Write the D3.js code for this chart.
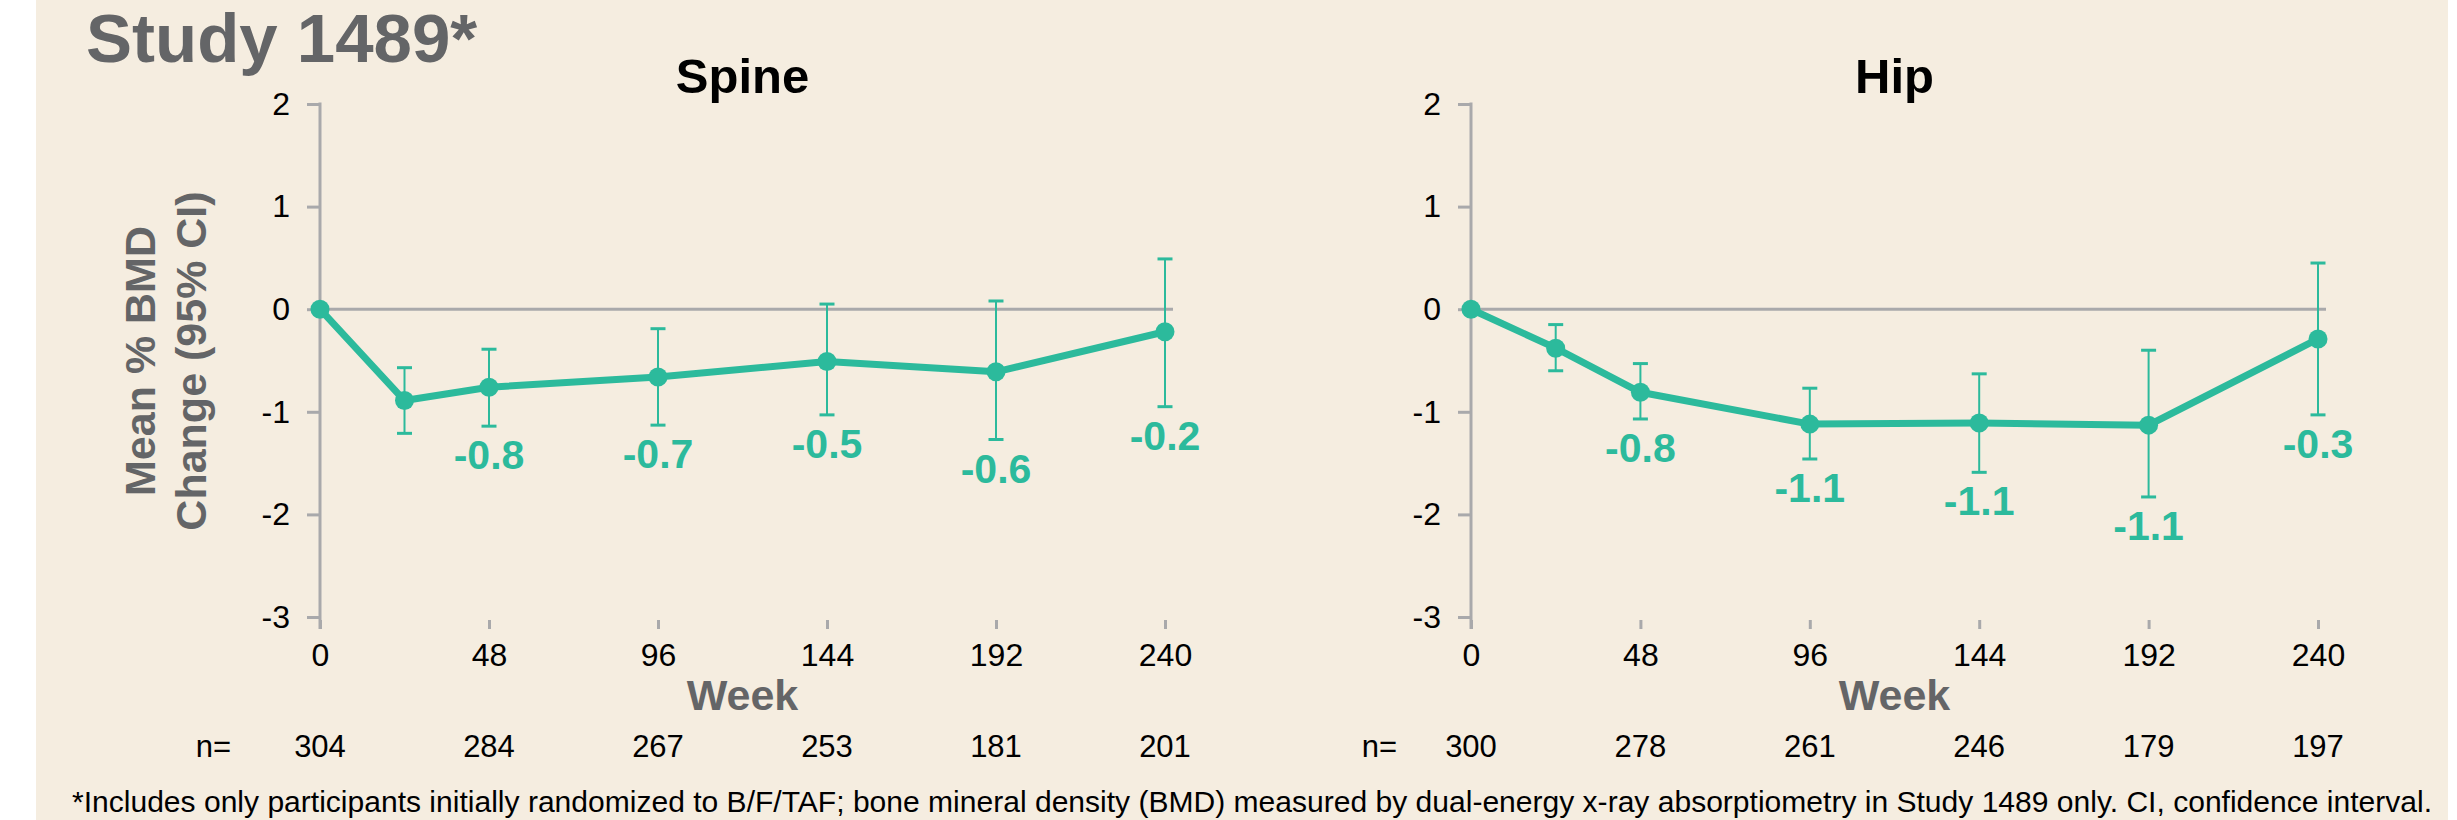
<!DOCTYPE html>
<html>
<head>
<meta charset="utf-8">
<script src="https://cdn.jsdelivr.net/npm/d3@7"></script>
<style>
  html, body { margin: 0; padding: 0; background: #ffffff; }
  svg text { font-family: "Liberation Sans", Arial, sans-serif; }
</style>
</head>
<body>
<script>
'use strict'

// weeks where a mean was measured, and the labelled ticks
const weeks = [0, 24, 48, 96, 144, 192, 240]
const tickWeeks = [0, 48, 96, 144, 192, 240]
const yTicks = [2, 1, 0, -1, -2, -3]

// spine
const spineMean = [0, -0.89, -0.76, -0.66, -0.51, -0.61, -0.22]
const spineLow = [null, -1.21, -1.14, -1.13, -1.03, -1.27, -0.95]
const spineHigh = [null, -0.57, -0.39, -0.19, 0.05, 0.08, 0.49]
const spineLabels = [null, null, '-0.8', '-0.7', '-0.5', '-0.6', '-0.2']
const spineN = [304, 284, 267, 253, 181, 201]

// hip
const hipMean = [0, -0.38, -0.81, -1.12, -1.11, -1.13, -0.29]
const hipLow = [null, -0.60, -1.07, -1.46, -1.59, -1.83, -1.03]
const hipHigh = [null, -0.15, -0.53, -0.77, -0.63, -0.40, 0.45]
const hipLabels = [null, null, '-0.8', '-1.1', '-1.1', '-1.1', '-0.3']
const hipN = [300, 278, 261, 246, 179, 197]

const teal = '#2cba9c',
      axisGrey = '#a9a9ab',
      textGrey = '#646567'

const W = 2457, H = 820

const svg = d3.select('body').append('svg')
    .attr('width', W)
    .attr('height', H)

svg.append('rect')
    .attr('x', 36).attr('y', 0)
    .attr('width', 2412).attr('height', H)
    .attr('fill', '#f5ede0')

svg.append('text')
    .attr('x', 86).attr('y', 62)
    .attr('font-size', 69).attr('font-weight', 'bold')
    .attr('fill', textGrey)
    .text('Study 1489*')

// y axis title, shared
const yTitle = [['Mean % BMD', 155], ['Change (95% CI)', 206]]
yTitle.forEach(function(t){
  svg.append('text')
    .attr('transform', 'translate(' + [t[1], 361] + ') rotate(-90)')
    .attr('text-anchor', 'middle')
    .attr('font-size', 43).attr('font-weight', 'bold')
    .attr('fill', textGrey)
    .text(t[0])
})

const y = d3.scaleLinear()
    .domain([2, -3])
    .range([104, 617])

const panels = [
  {title: 'Spine', left: 320, right: 1165, nX: 231,
   mean: spineMean, low: spineLow, high: spineHigh, labels: spineLabels, n: spineN},
  {title: 'Hip', left: 1471, right: 2318, nX: 1397,
   mean: hipMean, low: hipLow, high: hipHigh, labels: hipLabels, n: hipN}
]

panels.forEach(drawPanel)

function drawPanel(p){
  const x = d3.scaleLinear()
      .domain([0, 240])
      .range([p.left, p.right])

  const g = svg.append('g')

  g.append('text')
      .attr('x', (p.left + p.right) / 2).attr('y', 93)
      .attr('text-anchor', 'middle')
      .attr('font-size', 49).attr('font-weight', 'bold')
      .attr('fill', '#000')
      .text(p.title)

  // y axis
  const yAxis = g.append('g')
      .attr('transform', 'translate(' + [p.left, 0] + ')')
      .call(d3.axisLeft(y).tickValues(yTicks).tickSize(13).tickPadding(17)
        .tickFormat(d3.format('d')))
  yAxis.select('.domain').remove()
  yAxis.selectAll('line').attr('stroke', axisGrey).attr('stroke-width', 3)
  yAxis.selectAll('text')
      .attr('font-size', 32).attr('fill', '#000')
      .attr('font-family', '"Liberation Sans", Arial, sans-serif')
      .text(function(d){ return d < 0 ? '-' + Math.abs(d) : d })

  g.append('line')
      .attr('x1', p.left).attr('x2', p.left)
      .attr('y1', y(2) - 1.5).attr('y2', 629)
      .attr('stroke', axisGrey).attr('stroke-width', 3)

  // zero line
  g.append('line')
      .attr('x1', p.left).attr('x2', p.right + 8)
      .attr('y1', y(0)).attr('y2', y(0))
      .attr('stroke', axisGrey).attr('stroke-width', 3)

  // x axis (ticks only)
  const xAxis = g.append('g')
      .attr('transform', 'translate(' + [0, 620] + ')')
      .call(d3.axisBottom(x).tickValues(tickWeeks).tickSize(9).tickPadding(14))
  xAxis.select('.domain').remove()
  xAxis.selectAll('line').attr('stroke', axisGrey).attr('stroke-width', 3)
  xAxis.selectAll('text')
      .attr('font-size', 32).attr('fill', '#000')
      .attr('font-family', '"Liberation Sans", Arial, sans-serif')

  g.append('text')
      .attr('x', (p.left + p.right) / 2).attr('y', 710)
      .attr('text-anchor', 'middle')
      .attr('font-size', 43).attr('font-weight', 'bold')
      .attr('fill', textGrey)
      .text('Week')

  // n row
  g.append('text')
      .attr('x', p.nX).attr('y', 757)
      .attr('text-anchor', 'end')
      .attr('font-size', 31).attr('fill', '#000')
      .text('n=')
  g.selectAll('.nval')
    .data(p.n)
    .enter()
    .append('text')
      .attr('class', 'nval')
      .attr('x', (d, i) => x(tickWeeks[i]))
      .attr('y', 757)
      .attr('text-anchor', 'middle')
      .attr('font-size', 31).attr('fill', '#000')
      .text(d => d)

  const pts = weeks.map((w, i) => ({w: w, m: p.mean[i], lo: p.low[i], hi: p.high[i], lab: p.labels[i]}))
  const bars = pts.filter(d => d.lo !== null)

  // error bars
  const eb = g.append('g').attr('stroke', teal)
  eb.selectAll('.stem')
    .data(bars).enter().append('line')
      .attr('x1', d => x(d.w)).attr('x2', d => x(d.w))
      .attr('y1', d => y(d.hi)).attr('y2', d => y(d.lo))
      .attr('stroke-width', 2)
  eb.selectAll('.capHi')
    .data(bars).enter().append('line')
      .attr('x1', d => x(d.w) - 7.5).attr('x2', d => x(d.w) + 7.5)
      .attr('y1', d => y(d.hi)).attr('y2', d => y(d.hi))
      .attr('stroke-width', 3)
  eb.selectAll('.capLo')
    .data(bars).enter().append('line')
      .attr('x1', d => x(d.w) - 7.5).attr('x2', d => x(d.w) + 7.5)
      .attr('y1', d => y(d.lo)).attr('y2', d => y(d.lo))
      .attr('stroke-width', 3)

  const line = d3.line()
      .x(d => x(d.w))
      .y(d => y(d.m))

  g.append('path')
      .attr('d', line(pts))
      .attr('fill', 'none')
      .attr('stroke', teal)
      .attr('stroke-width', 7)
      .attr('stroke-linejoin', 'round')

  g.selectAll('.dot')
    .data(pts).enter().append('circle')
      .attr('cx', d => x(d.w)).attr('cy', d => y(d.m))
      .attr('r', 9.5)
      .attr('fill', teal)

  g.selectAll('.lab')
    .data(pts.filter(d => d.lab)).enter().append('text')
      .attr('x', d => x(d.w)).attr('y', d => y(d.lo) + 43)
      .attr('text-anchor', 'middle')
      .attr('font-size', 41).attr('font-weight', 'bold')
      .attr('fill', teal)
      .text(d => d.lab)
}

svg.append('text')
    .attr('x', 72).attr('y', 812)
    .attr('font-size', 30).attr('fill', '#000')
    .attr('textLength', 2360)
    .attr('lengthAdjust', 'spacingAndGlyphs')
    .text('*Includes only participants initially randomized to B/F/TAF; bone mineral density (BMD) measured by dual-energy x-ray absorptiometry in Study 1489 only. CI, confidence interval.')
</script>
</body>
</html>
